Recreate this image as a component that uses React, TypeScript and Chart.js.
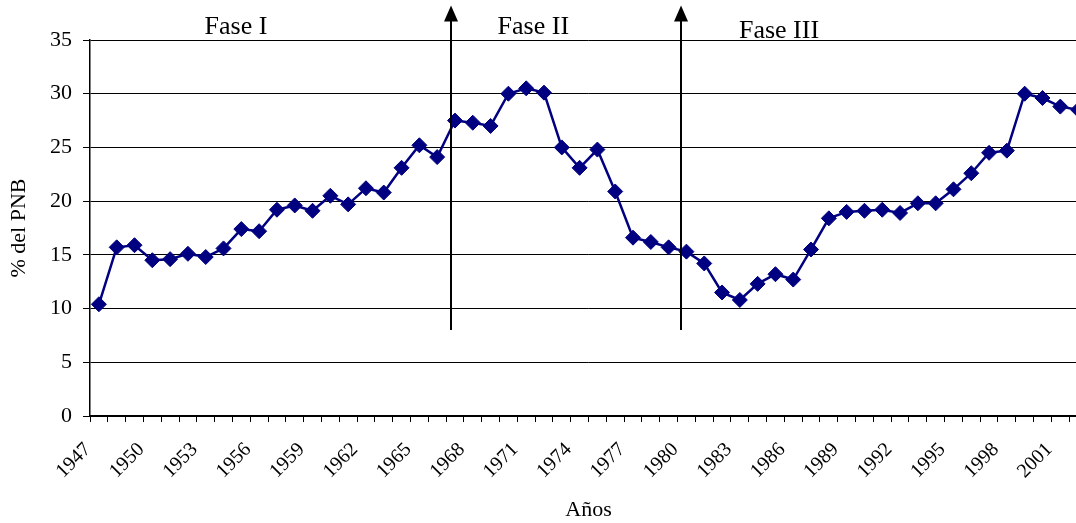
import React, { useEffect, useRef } from "react";
import { Chart, registerables } from "chart.js";

Chart.register(...registerables);

const years: string[] = [];
for (let y = 1947; y <= 2002; y++) years.push(String(y));

const pnbShare: number[] = [
  10.4, 15.7, 15.9, 14.5, 14.6, 15.1, 14.8, 15.6, 17.4, 17.2,
  19.2, 19.6, 19.1, 20.5, 19.7, 21.2, 20.8, 23.1, 25.2, 24.1,
  27.5, 27.3, 27.0, 30.0, 30.5, 30.1, 25.0, 23.1, 24.8, 20.9,
  16.6, 16.2, 15.7, 15.3, 14.2, 11.5, 10.8, 12.3, 13.2, 12.7,
  15.5, 18.4, 19.0, 19.1, 19.2, 18.9, 19.8, 19.8, 21.1, 22.6,
  24.5, 24.7, 30.0, 29.6, 28.8, 28.5,
];

// phase boundaries (category index units) and phase labels
const phaseArrowsX: number[] = [19.8, 32.7];
const phaseArrowFrom = 8.0;
const phaseArrowTo = 38.2;
const phaseLabels: string[] = ["Fase I", "Fase II", "Fase III"];
const phaseLabelX: number[] = [7.7, 24.4, 38.2];
const phaseLabelY: number[] = [35.6, 35.6, 35.2];

const SERIF = "'Liberation Serif', 'Times New Roman', serif";

const phasePlugin = {
  id: "phases",
  afterDraw(chart: any) {
    const { ctx, scales } = chart;
    const xs = scales.x;
    const ys = scales.y;
    ctx.save();
    ctx.strokeStyle = "#000";
    ctx.fillStyle = "#000";
    ctx.lineWidth = 2;
    phaseArrowsX.forEach((v) => {
      const x = Math.round(xs.getPixelForValue(v));
      const yb = ys.getPixelForValue(phaseArrowFrom);
      const yt = ys.getPixelForValue(phaseArrowTo);
      ctx.beginPath();
      ctx.moveTo(x, yb);
      ctx.lineTo(x, yt + 12);
      ctx.stroke();
      ctx.beginPath();
      ctx.moveTo(x, yt);
      ctx.lineTo(x - 7, yt + 16);
      ctx.lineTo(x + 7, yt + 16);
      ctx.closePath();
      ctx.fill();
    });
    ctx.font = `26px ${SERIF}`;
    ctx.textAlign = "center";
    ctx.textBaseline = "alphabetic";
    phaseLabels.forEach((t, i) => {
      ctx.fillText(t, xs.getPixelForValue(phaseLabelX[i]), ys.getPixelForValue(phaseLabelY[i]));
    });
    ctx.restore();
  },
};

export default function App() {
  const ref = useRef<HTMLCanvasElement>(null);
  useEffect(() => {
    if (!ref.current) return;
    const chart = new Chart(ref.current, {
      type: "line",
      data: {
        labels: years,
        datasets: [
          {
            data: pnbShare,
            borderColor: "#000080",
            backgroundColor: "#000080",
            borderWidth: 2.5,
            pointStyle: "rectRot",
            pointRadius: 7.5,
            pointBorderWidth: 1,
            pointBorderColor: "#000080",
            pointBackgroundColor: "#000080",
            tension: 0,
          },
        ],
      },
      options: {
        responsive: false,
        animation: false,
        devicePixelRatio: 1,
        layout: { padding: { left: 0, right: 13, top: 40, bottom: 0 } },
        plugins: { legend: { display: false }, tooltip: { enabled: false } },
        scales: {
          x: {
            type: "category",
            offset: true,
            grid: {
              offset: true,
              drawOnChartArea: false,
              drawTicks: true,
              tickLength: 6,
              color: "#000",
            },
            border: { display: true, color: "#000", width: 2 },
            ticks: {
              autoSkip: false,
              maxRotation: 45,
              minRotation: 45,
              padding: 16,
              labelOffset: -11,
              color: "#000",
              font: { family: SERIF, size: 20 },
              callback: (_v: any, i: number) => (i % 3 === 0 ? years[i] : ""),
            },
            title: {
              display: true,
              text: "Años",
              color: "#000",
              font: { family: SERIF, size: 22 },
              padding: { top: 0, bottom: 0 },
            },
            afterFit: (s: any) => {
              s.height = 107;
              s.paddingLeft = 0;
              s.paddingRight = 0;
            },
          },
          y: {
            min: 0,
            max: 35,
            grid: { color: "#000", lineWidth: 1, tickLength: 7, drawTicks: true },
            border: { display: true, color: "#000", width: 1.5 },
            ticks: {
              stepSize: 5,
              padding: 11,
              color: "#000",
              font: { family: SERIF, size: 22 },
            },
            title: {
              display: true,
              text: "% del PNB",
              color: "#000",
              font: { family: SERIF, size: 22 },
              padding: { top: 6, bottom: 0 },
            },
            afterFit: (s: any) => {
              s.width = 90;
            },
          },
        },
      },
      plugins: [phasePlugin],
    });
    return () => chart.destroy();
  }, []);
  return (
    <div
      style={{
        position: "absolute",
        left: 0,
        top: 0,
        width: 1076,
        height: 523,
        overflow: "hidden",
        background: "#fff",
      }}
    >
      <canvas ref={ref} width={1100} height={523} style={{ width: 1100, height: 523, display: "block" }} />
    </div>
  );
}
